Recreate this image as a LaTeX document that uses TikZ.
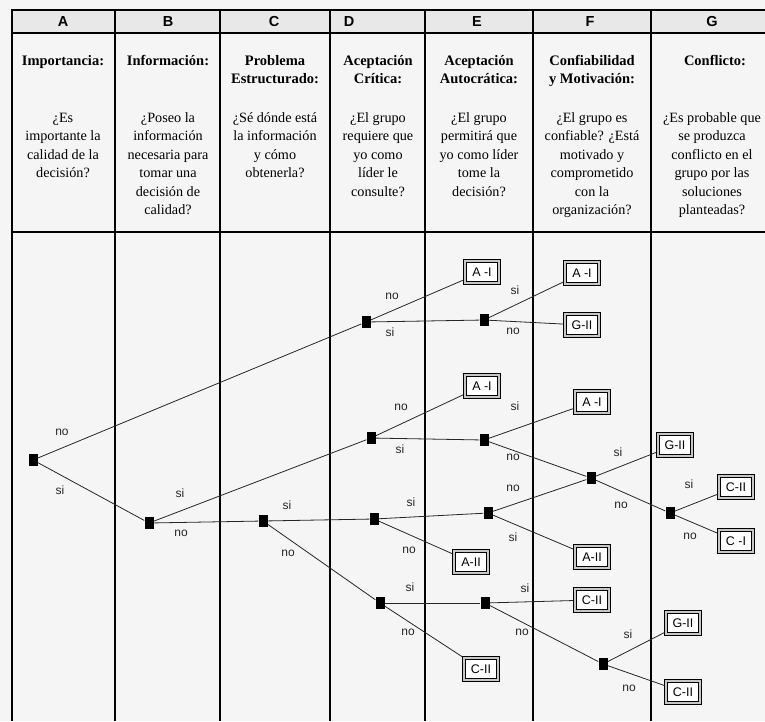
\documentclass[tikz,border=0pt]{standalone}
\usepackage{fontspec}
\setmainfont{Liberation Serif}
\newfontfamily\arialfont{Liberation Sans}
\begin{document}
\begin{tikzpicture}[x=1pt,y=-1pt,
  grid/.style={line width=2pt, black},
  dnode/.style={rectangle, fill=black, minimum width=9pt, minimum height=12pt, inner sep=0pt},
  outcome/.style={rectangle, draw=black, line width=0.8pt, double=black!22, double distance=1.6pt,
    fill=white, minimum width=34pt, minimum height=22pt, inner sep=0pt,
    font=\arialfont\fontsize{12.5}{12.5}\selectfont},
  branch/.style={line width=0.8pt, black!85},
  tobox/.style={branch, shorten >=1.5pt},
  ans/.style={font=\arialfont\fontsize{12}{12}\selectfont, inner sep=0pt, text=black!85},
  colhead/.style={font=\arialfont\bfseries\fontsize{14.5}{14.5}\selectfont, inner sep=0pt},
  title/.style={font=\bfseries\fontsize{14.5}{18}\selectfont, align=center, anchor=north, inner sep=0pt},
  question/.style={font=\fontsize{14.2}{18.5}\selectfont, align=center, anchor=north, inner sep=0pt}
]
% page and header band
\fill[black!4] (0,0) rectangle (765,721);
\useasboundingbox (0,0) rectangle (765,721);
\fill[black!9] (12,10) rectangle (765,33);

% table rules
\draw[grid] (11,10) -- (765,10);
\draw[grid] (12,33) -- (765,33);
\draw[grid] (12,232) -- (765,232);
\draw[line width=2.5pt] (12,9) -- (12,721);
\foreach \cx in {115,220,330,425,533,651}
  \draw[grid] (\cx,9) -- (\cx,721);

% column letters
\node[colhead] (hA) at (63,22) {A};
\node[colhead] (hB) at (168,22) {B};
\node[colhead] (hC) at (274,22) {C};
\node[colhead] (hD) at (349,22) {D};
\node[colhead] (hE) at (477,22) {E};
\node[colhead] (hF) at (590,22) {F};
\node[colhead] (hG) at (712,22) {G};

% criteria titles
\node[title] (tA) at (63,52.5) {\strut Importancia:};
\node[title] (tB) at (168,52.5) {\strut Información:};
\node[title] (tC) at (275,52.5) {\strut Problema\\Estructurado:};
\node[title] (tD) at (378,52.5) {\strut Aceptación\\Crítica:};
\node[title] (tE) at (479,52.5) {\strut Aceptación\\Autocrática:};
\node[title] (tF) at (592,52.5) {\strut Confiabilidad\\y Motivación:};
\node[title] (tG) at (715,52.5) {\strut Conflicto:};

% questions
\node[question] (qA) at (63,109) {\strut ¿Es\\importante la\\calidad de la\\decisión?};
\node[question] (qB) at (168,109) {\strut ¿Poseo la\\información\\necesaria para\\tomar una\\decisión de\\calidad?};
\node[question] (qC) at (275,109) {\strut ¿Sé dónde está\\la información\\y cómo\\obtenerla?};
\node[question] (qD) at (378,109) {\strut ¿El grupo\\requiere que\\yo como\\líder le\\consulte?};
\node[question] (qE) at (479,109) {\strut ¿El grupo\\permitirá que\\yo como líder\\tome la\\decisión?};
\node[question] (qF) at (592,109) {\strut ¿El grupo es\\confiable? ¿Está\\motivado y\\comprometido\\con la\\organización?};
\node[question] (qG) at (712,109) {\strut ¿Es probable que\\se produzca\\conflicto en el\\grupo por las\\soluciones\\planteadas?};

% decision points
\node[dnode] (nA) at (33,460) {};
\node[dnode] (nB) at (149,523) {};
\node[dnode] (nC) at (263,521) {};
\node[dnode] (nD1) at (366,322) {};
\node[dnode] (nD2) at (371,438) {};
\node[dnode] (nD3) at (374,519) {};
\node[dnode] (nD4) at (380,603) {};
\node[dnode] (nE1) at (484,320) {};
\node[dnode] (nE2) at (484,440) {};
\node[dnode] (nE3) at (488,513) {};
\node[dnode] (nE4) at (485,603) {};
\node[dnode] (nF1) at (591,478) {};
\node[dnode] (nF2) at (603,664) {};
\node[dnode] (nG) at (670,513) {};

% decision styles reached
\node[outcome] (bE1) at (482,272) {A -I};
\node[outcome] (bF1) at (582,273) {A -I};
\node[outcome] (bF2) at (582,325) {G-II};
\node[outcome] (bE2) at (482,386) {A -I};
\node[outcome] (bF3) at (592,402) {A -I};
\node[outcome] (bG1) at (675,445) {G-II};
\node[outcome] (bG2) at (736,487) {C-II};
\node[outcome] (bG3) at (736,541) {C -I};
\node[outcome] (bE3) at (471,562) {A-II};
\node[outcome] (bF4) at (592,557) {A-II};
\node[outcome] (bF5) at (592,600) {C-II};
\node[outcome] (bG4) at (683,623) {G-II};
\node[outcome] (bE4) at (481,669) {C-II};
\node[outcome] (bG5) at (683,692) {C-II};

% branches between decision points
\draw[branch] (nA) -- (nD1);
\draw[branch] (nA) -- (nB);
\draw[branch] (nB) -- (nD2);
\draw[branch] (nB) -- (nC);
\draw[branch] (nC) -- (nD3);
\draw[branch] (nC) -- (nD4);
\draw[branch] (nD1) -- (nE1);
\draw[branch] (nD2) -- (nE2);
\draw[branch] (nD3) -- (nE3);
\draw[branch] (nD4) -- (nE4);
\draw[branch] (nE2) -- (nF1);
\draw[branch] (nE3) -- (nF1);
\draw[branch] (nE4) -- (nF2);
\draw[branch] (nF1) -- (nG);

% branches ending in a style
\draw[tobox] (nD1) -- (bE1);
\draw[tobox] (nD2) -- (bE2);
\draw[tobox] (nD3) -- (bE3);
\draw[tobox] (nD4) -- (bE4);
\draw[tobox] (nE1) -- (bF1);
\draw[tobox] (nE1) -- (bF2);
\draw[tobox] (nE2) -- (bF3);
\draw[tobox] (nE3) -- (bF4);
\draw[tobox] (nE4) -- (bF5);
\draw[tobox] (nF1) -- (bG1);
\draw[tobox] (nG) -- (bG2);
\draw[tobox] (nG) -- (bG3);
\draw[tobox] (nF2) -- (bG4);
\draw[tobox] (nF2) -- (bG5);

% answers
\node[ans] (lA1) at (62,432) {no};
\node[ans] (lA2) at (60,490) {si};
\node[ans] (lB1) at (180,493) {si};
\node[ans] (lB2) at (181,533) {no};
\node[ans] (lC1) at (287,505) {si};
\node[ans] (lC2) at (288,553) {no};
\node[ans] (lD11) at (392,296) {no};
\node[ans] (lD12) at (390,332) {si};
\node[ans] (lD21) at (401,407) {no};
\node[ans] (lD22) at (400,449) {si};
\node[ans] (lD31) at (411,502) {si};
\node[ans] (lD32) at (409,550) {no};
\node[ans] (lD41) at (410,587) {si};
\node[ans] (lD42) at (408,632) {no};
\node[ans] (lE11) at (515,290) {si};
\node[ans] (lE12) at (513,331) {no};
\node[ans] (lE21) at (515,406) {si};
\node[ans] (lE22) at (513,457) {no};
\node[ans] (lE31) at (513,488) {no};
\node[ans] (lE32) at (513,537) {si};
\node[ans] (lE41) at (525,588) {si};
\node[ans] (lE42) at (522,632) {no};
\node[ans] (lF11) at (618,452) {si};
\node[ans] (lF12) at (621,505) {no};
\node[ans] (lG1) at (689,484) {si};
\node[ans] (lG2) at (690,536) {no};
\node[ans] (lF21) at (628,634) {si};
\node[ans] (lF22) at (629,688) {no};
\end{tikzpicture}
\end{document}
